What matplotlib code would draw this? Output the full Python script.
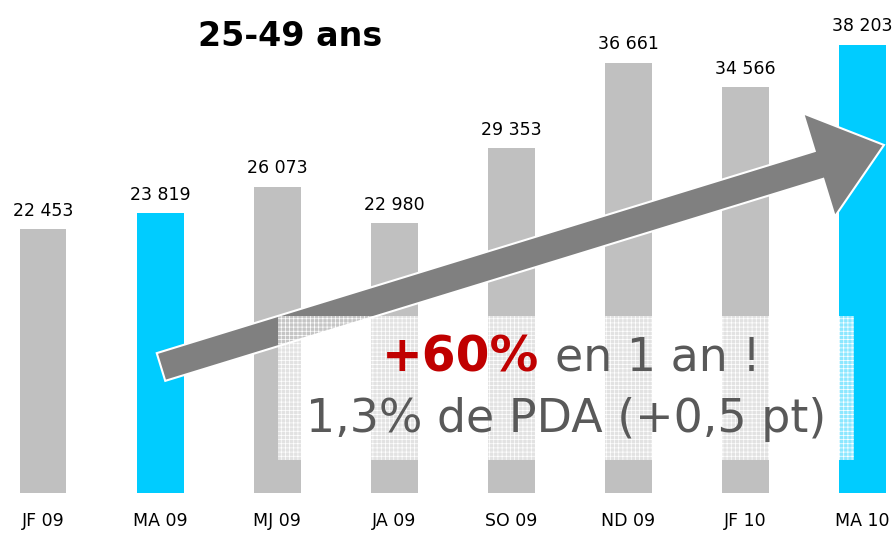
import matplotlib
matplotlib.use("Agg")
import matplotlib.pyplot as plt
from matplotlib.patches import FancyArrow, Rectangle
from matplotlib.transforms import IdentityTransform

# data
periods = ["JF 09", "MA 09", "MJ 09", "JA 09", "SO 09", "ND 09", "JF 10", "MA 10"]
values = [22453, 23819, 26073, 22980, 29353, 36661, 34566, 38203]
highlight = [False, True, False, False, False, False, False, True]

W, H = 894, 533
fig = plt.figure(figsize=(W / 100, H / 100), dpi=100)
ax = fig.add_axes([0, 40 / H, 1, 493 / H])

colors = ["#00ccff" if h else "#c0c0c0" for h in highlight]
x = list(range(len(periods)))
bars = ax.bar(x, values, width=0.4, color=colors, zorder=1)

for xi, v in zip(x, values):
    ax.annotate(f"{v:,}".replace(",", " "), (xi, v), xytext=(0, 7),
                textcoords="offset points", ha="center", va="bottom",
                fontsize=12.5, color="black")

ax.set_xlim(-0.368, 7.27)
ax.set_ylim(0, 42000)
ax.set_xticks(x)
ax.set_xticklabels(periods, fontsize=12.5)
ax.tick_params(axis="x", length=0, pad=14)
ax.set_yticks([])
for s in ax.spines.values():
    s.set_visible(False)

ident = IdentityTransform()

# big arrow (pixel coords, y from bottom)
tail = (161, H - 367)
tip = (884, H - 145)
arrow = FancyArrow(tail[0], tail[1], tip[0] - tail[0], tip[1] - tail[1],
                   width=29, head_width=108, head_length=68,
                   length_includes_head=True, transform=ident,
                   facecolor="#808080", edgecolor="white", linewidth=1.5,
                   zorder=2, clip_on=False)
fig.add_artist(arrow)

# light patterned box
box = Rectangle((278, H - 460), 576, 144, transform=ident,
                facecolor=(1, 1, 1, 0.55), edgecolor="none", zorder=3)
fig.add_artist(box)
plt.rcParams["hatch.linewidth"] = 0.5
box2 = Rectangle((278, H - 460), 576, 144, transform=ident,
                 facecolor="none", edgecolor="white", linewidth=0,
                 hatch="++++", zorder=3)
fig.add_artist(box2)

# texts
fig.text(290 / W, 1 - 37 / H, "25-49 ans", fontsize=24, fontweight="bold",
         ha="center", va="center", color="black")
fig.text(539 / W, 1 - 358 / H, "+60%", fontsize=35, fontweight="bold",
         ha="right", va="center", color="#c00000", zorder=5)
fig.text(555 / W, 1 - 358 / H, "en 1 an !", fontsize=33,
         ha="left", va="center", color="#595959", zorder=5)
fig.text(566 / W, 1 - 420 / H, "1,3% de PDA (+0,5 pt)", fontsize=33,
         ha="center", va="center", color="#595959", zorder=5)

fig.savefig("out.png", dpi=100)
